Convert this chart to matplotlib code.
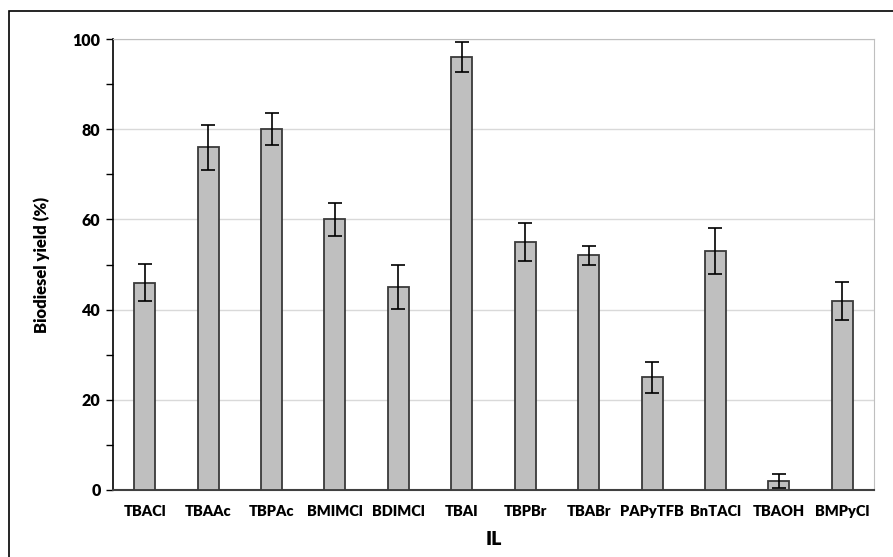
import numpy as np
import matplotlib.pyplot as plt
from matplotlib.patches import Rectangle
from matplotlib.ticker import MultipleLocator

plt.rcParams['font.family'] = ['Lato', 'DejaVu Sans']

# data
ils = ['TBACl', 'TBAAc', 'TBPAc', 'BMIMCl', 'BDIMCl', 'TBAI',
       'TBPBr', 'TBABr', 'PAPyTFB', 'BnTACl', 'TBAOH', 'BMPyCl']
yield_pct = [46, 76, 80, 60, 45, 96, 55, 52, 25, 53, 2, 42]
yield_err = [4.2, 5.0, 3.6, 3.6, 4.9, 3.4, 4.3, 2.1, 3.4, 5.0, 1.5, 4.2]

fig = plt.figure(figsize=(8.93, 5.57), dpi=100)
ax = fig.add_axes([113 / 893, 1 - 490 / 557, 761 / 893, 451 / 557])

x = np.arange(len(ils))
ax.bar(x, yield_pct, width=0.33, color='#bfbfbf', edgecolor='#3a3a3a',
       linewidth=1.3, zorder=3)
ax.errorbar(x, yield_pct, yerr=yield_err, fmt='none', ecolor='black',
            elinewidth=1.2, capsize=5, capthick=1.2, zorder=4)

ax.set_xlim(-0.5, len(ils) - 0.5)
ax.set_ylim(0, 100)
ax.yaxis.set_major_locator(MultipleLocator(20))
ax.yaxis.set_minor_locator(MultipleLocator(10))
ax.grid(axis='y', which='major', color='#d9d9d9', linewidth=1, zorder=0)

ax.set_xticks(x)
ax.set_xticklabels(ils, fontsize=10.5, fontweight='heavy')
ax.tick_params(axis='x', length=0, pad=11)
ax.tick_params(axis='y', which='major', length=5, width=1, labelsize=11.5, pad=4)
ax.tick_params(axis='y', which='minor', length=5, width=1)
for lab in ax.get_yticklabels():
    lab.set_fontweight('heavy')

ax.spines['left'].set_color('black')
ax.spines['bottom'].set_color('#404040')
ax.spines['bottom'].set_linewidth(1.5)
ax.spines['left'].set_linewidth(1.2)
ax.spines['top'].set_color('#bfbfbf')
ax.spines['right'].set_color('#bfbfbf')

ax.set_ylabel('Biodiesel yield (%)', fontsize=12, fontweight='heavy', labelpad=16)
ax.set_xlabel('IL', fontsize=14, fontweight='heavy', labelpad=9)

# outer frame of the chart
fig.patches.append(Rectangle((9 / 893, -0.05), 1.1, 1 - 11 / 557 + 0.05,
                             transform=fig.transFigure, fill=False,
                             edgecolor='black', linewidth=1.2))

fig.savefig('out.png', dpi=100)
